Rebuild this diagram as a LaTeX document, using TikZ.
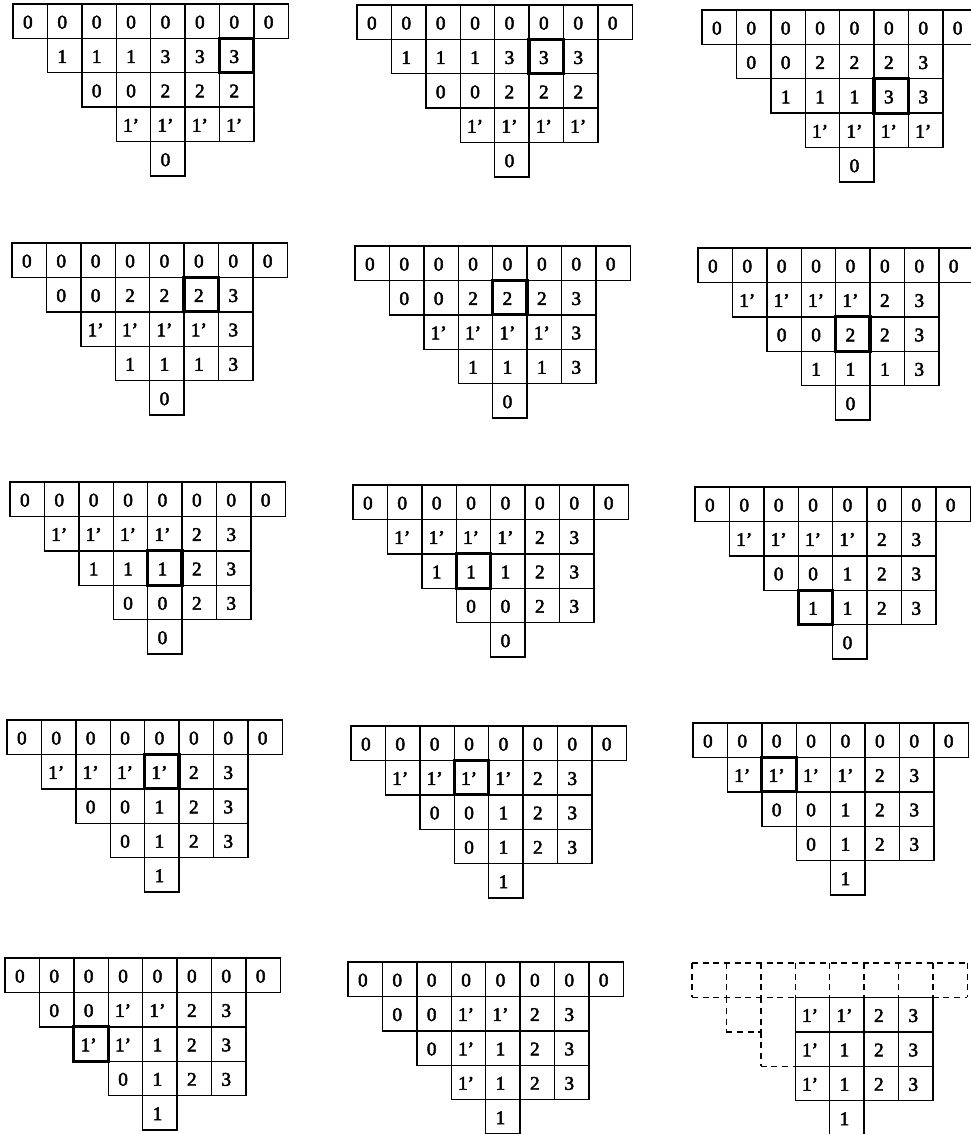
\documentclass[tikz,border=0pt]{standalone}
\usepackage{fontspec}
\setmainfont{Liberation Serif}
\newfontfamily\cellfont{Liberation Serif}[FakeBold=2.5]
\def\cellsz{34.4}
\newcommand\tabrow[4]{%
  \foreach \v [count=\k from #3] in {#4} {\node[cell] (#1-#2-\k) at ({(\k+0.5)*\cellsz},{(#2-0.5)*\cellsz}) {\v\kern3.5pt};}}
\newcommand\tabl[7]{%
  \begin{scope}[shift={(#2,#3)}]
    \tabrow{#1}{1}{0}{0,0,0,0,0,0,0,0}
    \tabrow{#1}{2}{1}{#4}
    \tabrow{#1}{3}{2}{#5}
    \tabrow{#1}{4}{3}{#6}
    \tabrow{#1}{5}{4}{#7}
  \end{scope}}
\newcommand\hlcell[1]{\draw[hl] (#1.north west) rectangle (#1.south east);}
\begin{document}
\begin{tikzpicture}[x=0.75pt,y=-0.75pt,
  cell/.style={draw, line width=1.05pt, rectangle, outer sep=0pt, inner sep=0pt,
    text height=11pt, text depth=0pt,
    minimum width=25.8pt, minimum height=25.8pt, font=\cellfont\fontsize{14.5}{16}\selectfont},
  ghost/.style={rectangle, outer sep=0pt, inner sep=0pt, minimum width=25.8pt, minimum height=25.8pt},
  hl/.style={line width=2.4pt},
  dsh/.style={line width=1.05pt, dash pattern=on 4.5pt off 3.5pt}]
\useasboundingbox (0,0) rectangle (970,1134);
% row 1
\tabl{a}{13}{4}{1,1,1,3,3,3}{0,0,2,2,2}{1’,1’,1’,1’}{0}
\hlcell{a-2-6}
\tabl{b}{357}{5}{1,1,1,3,3,3}{0,0,2,2,2}{1’,1’,1’,1’}{0}
\hlcell{b-2-5}
\tabl{c}{702}{10}{0,0,2,2,2,3}{1,1,1,3,3}{1’,1’,1’,1’}{0}
\hlcell{c-3-5}
% row 2
\tabl{d}{12}{243}{0,0,2,2,2,3}{1’,1’,1’,1’,3}{1,1,1,3}{0}
\hlcell{d-2-5}
\tabl{e}{355}{246}{0,0,2,2,2,3}{1’,1’,1’,1’,3}{1,1,1,3}{0}
\hlcell{e-2-4}
\tabl{f}{698}{248}{1’,1’,1’,1’,2,3}{0,0,2,2,3}{1,1,1,3}{0}
\hlcell{f-3-4}
% row 3
\tabl{g}{10}{482}{1’,1’,1’,1’,2,3}{1,1,1,2,3}{0,0,2,3}{0}
\hlcell{g-3-4}
\tabl{h}{353}{485}{1’,1’,1’,1’,2,3}{1,1,1,2,3}{0,0,2,3}{0}
\hlcell{h-3-3}
\tabl{i}{695}{487}{1’,1’,1’,1’,2,3}{0,0,1,2,3}{1,1,2,3}{0}
\hlcell{i-4-3}
% row 4
\tabl{j}{7}{720}{1’,1’,1’,1’,2,3}{0,0,1,2,3}{0,1,2,3}{1}
\hlcell{j-2-4}
\tabl{k}{351}{726}{1’,1’,1’,1’,2,3}{0,0,1,2,3}{0,1,2,3}{1}
\hlcell{k-2-3}
\tabl{l}{693}{723}{1’,1’,1’,1’,2,3}{0,0,1,2,3}{0,1,2,3}{1}
\hlcell{l-2-2}
% row 5
\tabl{m}{5}{958}{0,0,1’,1’,2,3}{1’,1’,1,2,3}{0,1,2,3}{1}
\hlcell{m-3-2}
\tabl{n}{348}{962}{0,0,1’,1’,2,3}{0,1’,1,2,3}{1’,1,2,3}{1}
% last: dashed ghosts and solid cells
\begin{scope}[shift={(692,963)}]
  \foreach \k in {0,...,7} {\node[ghost] (o-1-\k) at ({(\k+0.5)*\cellsz},{0.5*\cellsz}) {};}
  \node[ghost] (o-2-1) at ({1.5*\cellsz},{1.5*\cellsz}) {};
  \node[ghost] (o-2-2) at ({2.5*\cellsz},{1.5*\cellsz}) {};
  \node[ghost] (o-3-2) at ({2.5*\cellsz},{2.5*\cellsz}) {};
  \tabrow{o}{2}{3}{1’,1’,2,3}
  \tabrow{o}{3}{3}{1’,1,2,3}
  \tabrow{o}{4}{3}{1’,1,2,3}
  \tabrow{o}{5}{4}{1}
\end{scope}
\draw[dsh] (o-1-0.north west) -- (o-1-7.north east);
\draw[dsh] (o-1-0.south west) -- (o-1-2.south east);
\draw[dsh] (o-1-7.south west) -- (o-1-7.south east);
\foreach \k in {0,...,7} {\draw[dsh] (o-1-\k.north west) -- (o-1-\k.south west);}
\draw[dsh] (o-1-7.north east) -- (o-1-7.south east);
\draw[dsh] (o-2-1.north west) -- (o-2-1.south west);
\draw[dsh] (o-2-2.north west) -- (o-2-2.south west);
\draw[dsh] (o-2-1.south west) -- (o-2-1.south east);
\draw[dsh] (o-3-2.north west) -- (o-3-2.south west);
\draw[dsh] (o-3-2.south west) -- (o-3-2.south east);
\end{tikzpicture}
\end{document}
